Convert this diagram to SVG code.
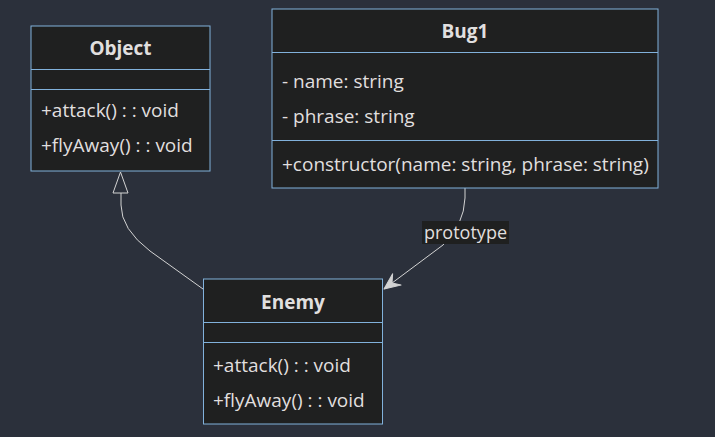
<svg xmlns="http://www.w3.org/2000/svg" width="715" height="437" viewBox="0 0 715 437">
<defs>
<style>
.box{fill:#1f2020;stroke:#81b1db;stroke-width:1}
.div{stroke:#81b1db;stroke-width:1}
.t{font-family:"Open Sans","Noto Sans",sans-serif;font-size:19px;fill:#e0dfdf;font-weight:500}
.title{font-weight:bold;text-anchor:middle}
.lt{font-size:18px;font-weight:400}
.edge{fill:none;stroke:#d3d3d3;stroke-width:1}
.lbl{fill:#1f2020}
</style>
<marker id="dep" viewBox="0 0 20 20" refX="19" refY="10" markerWidth="20" markerHeight="20" markerUnits="userSpaceOnUse" orient="auto">
<path d="M19,10 L3,3 L9,10 L3,17 Z" fill="#d3d3d3" stroke="#d3d3d3" stroke-width="1" stroke-linejoin="round"/>
</marker>
</defs>
<rect width="715" height="437" fill="#2b303b"/>
<g id="connectors">
<path class="edge" d="M203,289 L150,251 Q121,229 121,205 L121,193"/>
<polygon points="120.5,172 113,193 128,193" fill="#2b303b" stroke="#d3d3d3" stroke-width="1"/>
<path class="edge" d="M465,188 L465,198 Q464,225 443,245 L384,289" marker-end="url(#dep)"/>
<g id="label-prototype">
<rect class="lbl" x="422" y="221" width="87" height="23"/>
<text class="t lt" x="465.5" y="239" text-anchor="middle">prototype</text>
</g>
</g>
<g id="Object">
<rect class="box" x="31" y="26" width="179" height="145"/>
<line class="div" x1="31" y1="69.5" x2="210" y2="69.5"/>
<line class="div" x1="31" y1="89.5" x2="210" y2="89.5"/>
<text class="t title" x="120.5" y="55">Object</text>
<text class="t" x="41" y="117">+attack() : : void</text>
<text class="t" x="41" y="152">+flyAway() : : void</text>
</g>
<g id="Bug1">
<rect class="box" x="272" y="9" width="386" height="179"/>
<line class="div" x1="272" y1="52.5" x2="658" y2="52.5"/>
<line class="div" x1="272" y1="140.5" x2="658" y2="140.5"/>
<text class="t title" x="465" y="38">Bug1</text>
<text class="t" x="282" y="88">- name: string</text>
<text class="t" x="282" y="123">- phrase: string</text>
<text class="t" x="282" y="171">+constructor(name: string, phrase: string)</text>
</g>
<g id="Enemy">
<rect class="box" x="203.5" y="279" width="179" height="145"/>
<line class="div" x1="203.5" y1="322.5" x2="382.5" y2="322.5"/>
<line class="div" x1="203.5" y1="342.5" x2="382.5" y2="342.5"/>
<text class="t title" x="293" y="309">Enemy</text>
<text class="t" x="213" y="372">+attack() : : void</text>
<text class="t" x="213" y="407">+flyAway() : : void</text>
</g>
</svg>
